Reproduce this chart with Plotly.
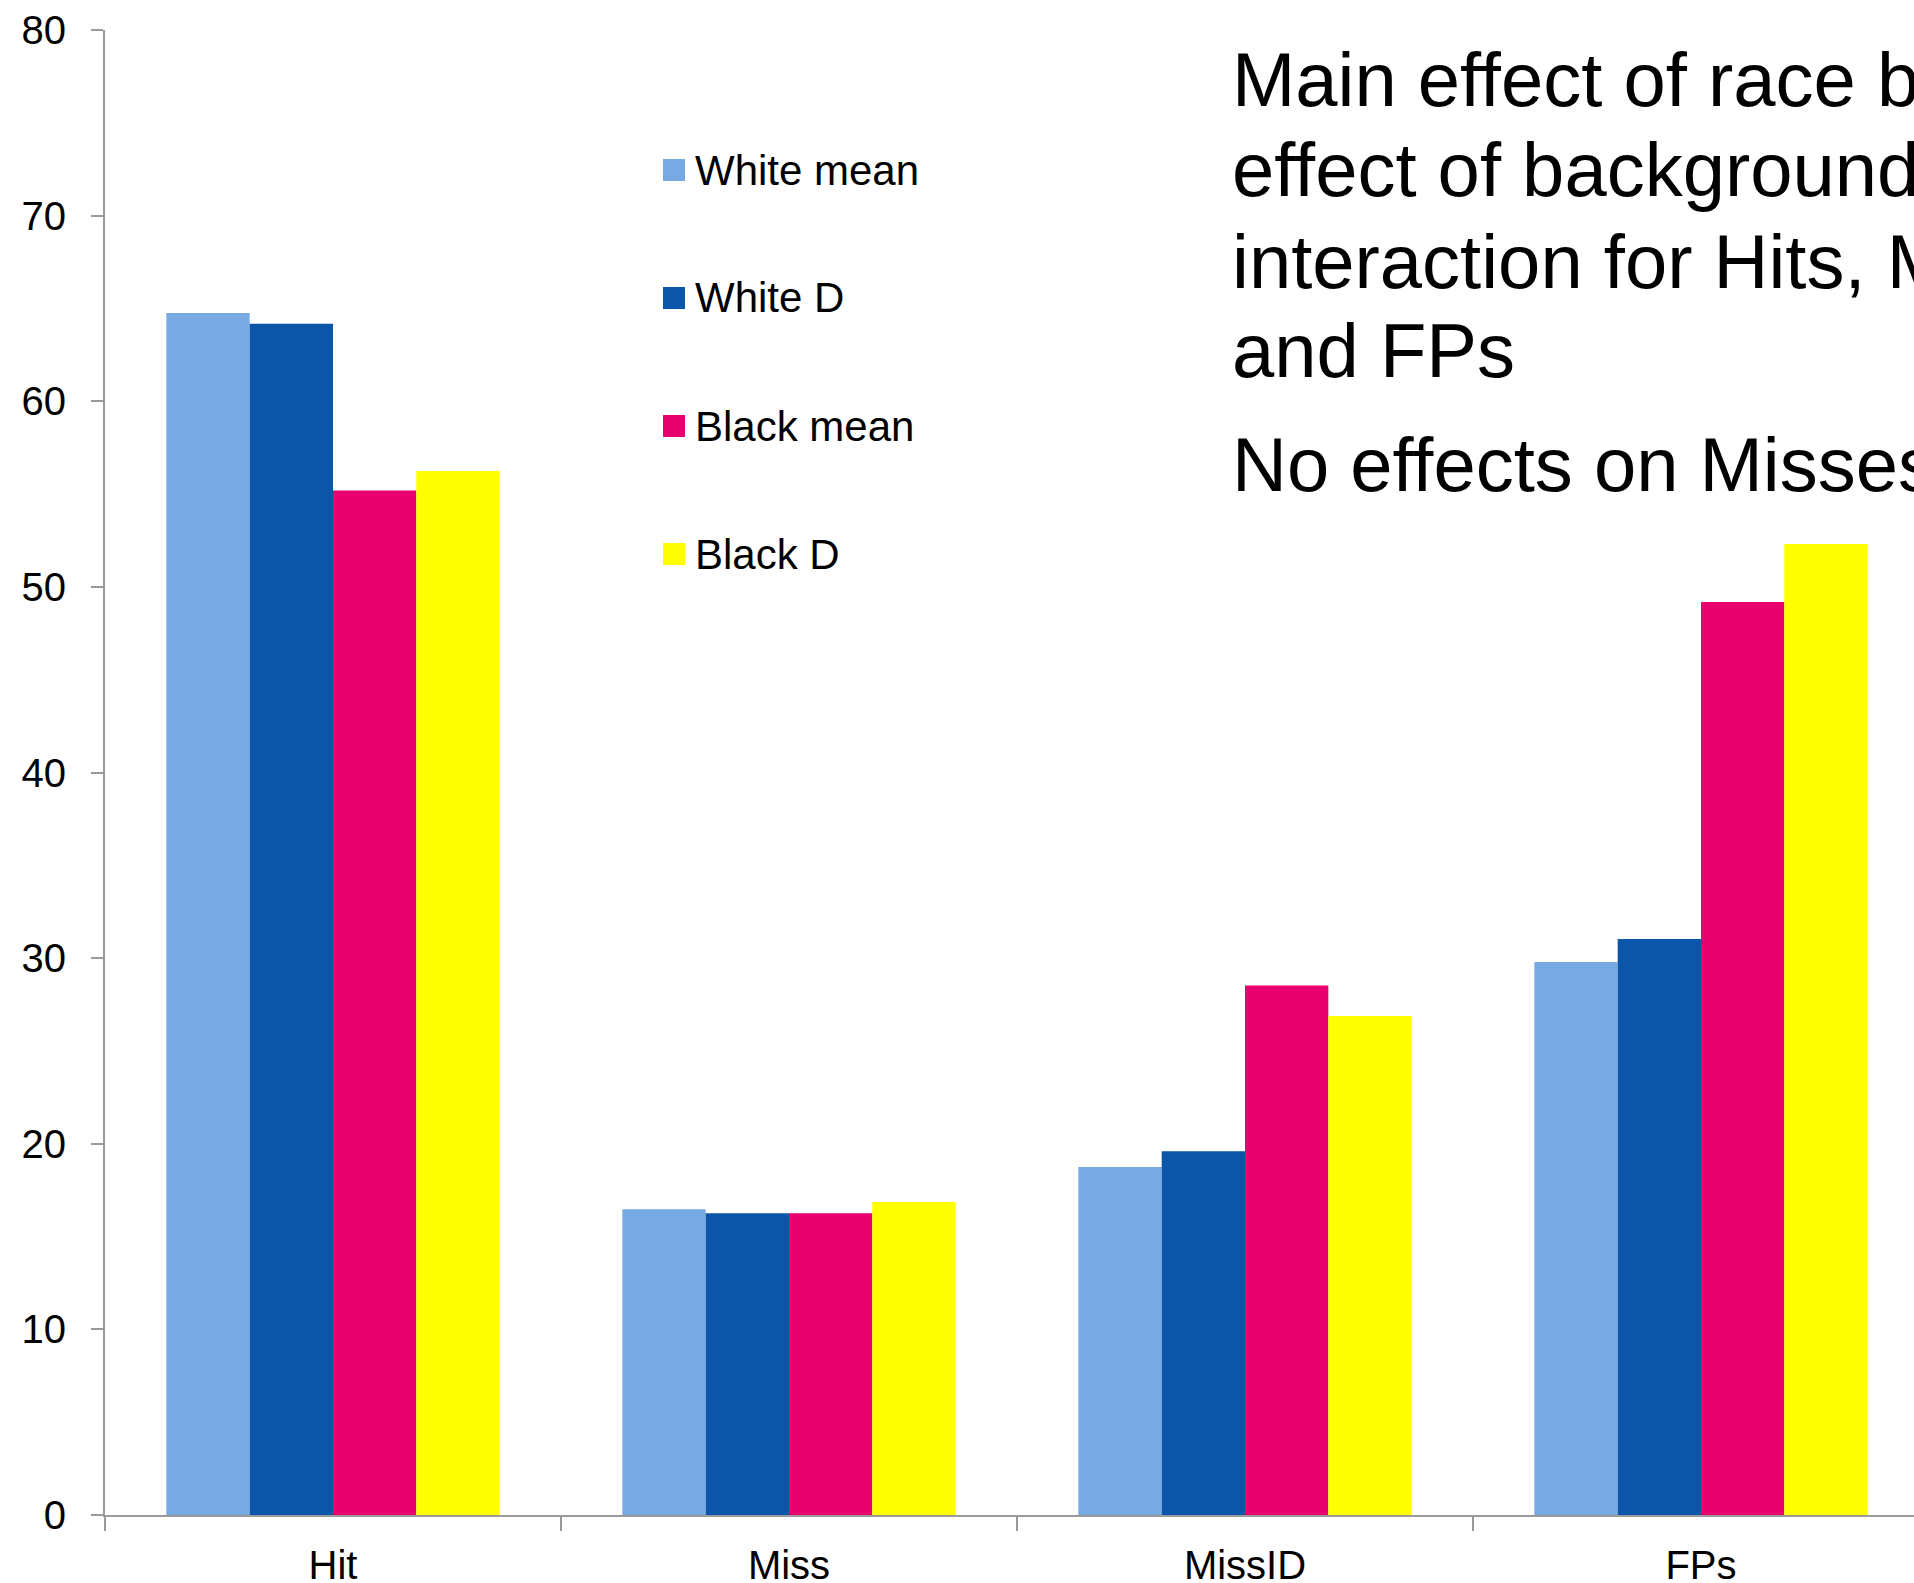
import plotly.graph_objects as go

# ---- data -------------------------------------------------------------
categories = ["Hit", "Miss", "MissID", "FPs"]
series_names = ["White mean", "White D", "Black mean", "Black D"]
white_mean = [64.75, 16.47, 18.75, 29.79]
white_d = [64.18, 16.25, 19.59, 31.03]
black_mean = [55.19, 16.25, 28.53, 49.19]
black_d = [56.24, 16.86, 26.88, 52.31]
y_tick_values = [0, 10, 20, 30, 40, 50, 60, 70, 80]
y_tick_labels = ["0", "10", "20", "30", "40", "50", "60", "70", "80"]
note_lines = [
    "Main effect of race but no",
    "effect of background and no",
    "interaction for Hits, MissIDs",
    "and FPs",
    "No effects on Misses",
]

# ---- styling ----------------------------------------------------------
colors = ["#77AAE2", "#0B56A8", "#E8006F", "#FFFF00"]
FONT = "Arial, Liberation Sans, sans-serif"
AXIS_GRAY = "#9A9A9A"
W, H = 1914, 1583
ML, MR, MT, MB = 105, 0, 30, 68
PW, PH = W - ML - MR, H - MT - MB


def px_x(px):
    return (px - ML) / PW


def px_y(py):
    return (H - MB - py) / PH


series_values = [white_mean, white_d, black_mean, black_d]

fig = go.Figure()
for name, vals, col in zip(series_names, series_values, colors):
    fig.add_trace(go.Bar(
        name=name, x=categories, y=vals,
        marker=dict(color=col, line=dict(width=0)),
        showlegend=False,
    ))

# legend drawn as swatches with labels
legend_x0, legend_size = 663, 22
legend_rows = [170, 298, 426, 554]
shapes = []
annotations = []
for name, col, cy in zip(series_names, colors, legend_rows):
    shapes.append(dict(
        type="rect", xref="paper", yref="paper",
        x0=px_x(legend_x0), x1=px_x(legend_x0 + legend_size),
        y0=px_y(cy + legend_size / 2), y1=px_y(cy - legend_size / 2),
        fillcolor=col, line=dict(width=0),
    ))
    annotations.append(dict(
        text=name, xref="paper", yref="paper",
        x=px_x(legend_x0 + legend_size + 8), y=px_y(cy),
        xanchor="left", yanchor="middle", showarrow=False,
        font=dict(family=FONT, size=42, color="black"),
    ))

# explanatory text block
note_centers = [79.5, 169.5, 261, 351, 464.5]
for line, cy in zip(note_lines, note_centers):
    annotations.append(dict(
        text=line, xref="paper", yref="paper",
        x=px_x(1230), y=px_y(cy),
        xanchor="left", yanchor="middle", showarrow=False,
        font=dict(family=FONT, size=76, color="black"),
    ))

fig.update_layout(
    width=W, height=H,
    margin=dict(l=ML, r=MR, t=MT, b=MB, pad=0),
    paper_bgcolor="white", plot_bgcolor="white",
    barmode="group", bargap=0.269, bargroupgap=0,
    showlegend=False,
    shapes=shapes, annotations=annotations,
    font=dict(family=FONT, size=40, color="black"),
    xaxis=dict(
        type="category", range=[-0.5, -0.5 + PW / 456.0],
        showline=True, linecolor=AXIS_GRAY, linewidth=2,
        ticks="outside", ticklen=14, tickwidth=2, tickcolor=AXIS_GRAY,
        tickson="boundaries", showgrid=False, zeroline=False,
        tickfont=dict(family=FONT, size=40, color="black"),
        automargin=False, ticklabelstandoff=14,
    ),
    yaxis=dict(
        range=[0, 80], tickvals=y_tick_values, ticktext=y_tick_labels,
        showline=True, linecolor=AXIS_GRAY, linewidth=2,
        ticks="outside", ticklen=12, tickwidth=2, tickcolor=AXIS_GRAY,
        showgrid=False, zeroline=False,
        tickfont=dict(family=FONT, size=40, color="black"),
        automargin=False, ticklabelstandoff=17,
    ),
)

fig.write_html("out.html")
